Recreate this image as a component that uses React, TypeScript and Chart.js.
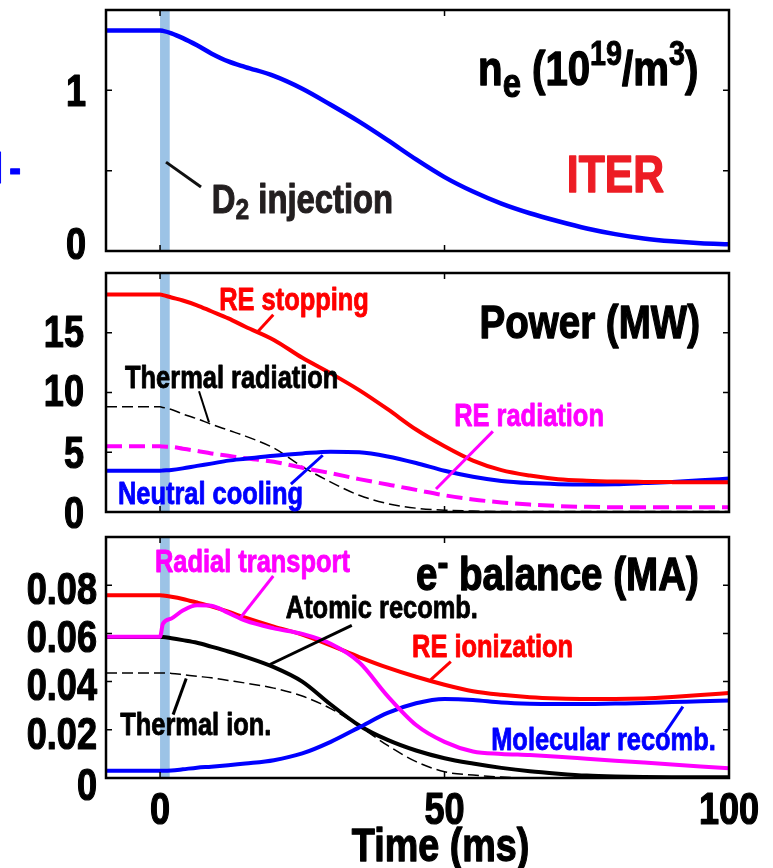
import React, { useEffect, useRef } from 'react';
import { Chart, registerables } from 'chart.js';

Chart.register(...registerables);

const FONT = '"Liberation Sans", Arial, sans-serif';
const SX = 0.82; // horizontal condensing to mimic a narrow bold face

// ---------- data ----------
const timeMs = [-9.5, 0, 0.5, 2, 4, 6.5, 9, 12, 15, 20, 25, 30, 35, 40, 45, 50, 55, 60, 65, 70, 75, 80, 85, 90, 95, 100];

const electronDensity = [1.373, 1.373, 1.37, 1.355, 1.325, 1.28, 1.23, 1.18, 1.145, 1.09, 1.01, 0.91, 0.805, 0.69, 0.57, 0.46, 0.37, 0.295, 0.235, 0.185, 0.14, 0.105, 0.078, 0.06, 0.048, 0.042];

const reStopping = [18.2, 18.2, 18.15, 17.95, 17.7, 17.3, 16.8, 16.2, 15.5, 14.4, 12.9, 11.6, 10.2, 8.6, 6.9, 5.5, 4.3, 3.5, 3.05, 2.75, 2.62, 2.55, 2.52, 2.5, 2.5, 2.5];
const neutralCooling = [3.45, 3.45, 3.47, 3.52, 3.65, 3.86, 4.05, 4.3, 4.45, 4.7, 4.9, 5.05, 5.0, 4.65, 4.1, 3.45, 2.95, 2.6, 2.42, 2.33, 2.3, 2.33, 2.42, 2.52, 2.65, 2.8];
const reRadiation = [5.5, 5.5, 5.48, 5.45, 5.3, 5.11, 4.9, 4.7, 4.5, 4.2, 3.7, 3.25, 2.75, 2.3, 1.85, 1.4, 1.05, 0.8, 0.62, 0.5, 0.43, 0.4, 0.39, 0.39, 0.39, 0.39];
const thermalRadiation = [8.8, 8.8, 8.75, 8.58, 8.2, 7.8, 7.35, 6.85, 6.35, 5.35, 3.8, 2.5, 1.4, 0.7, 0.32, 0.15, 0.08, 0.05, 0.05, 0.05, 0.05, 0.05, 0.05, 0.05, 0.05, 0.05];

const reIonization = [0.0758, 0.0758, 0.0757, 0.0752, 0.0743, 0.0728, 0.0712, 0.069, 0.0665, 0.0628, 0.0595, 0.055, 0.0502, 0.0458, 0.042, 0.0387, 0.036, 0.0345, 0.0335, 0.033, 0.0328, 0.0328, 0.033, 0.0336, 0.0344, 0.0353];
const radialTransport = [0.0586, 0.0586, 0.064, 0.0662, 0.0695, 0.0717, 0.0715, 0.0685, 0.0653, 0.0621, 0.0598, 0.0557, 0.048, 0.034, 0.022, 0.015, 0.011, 0.01, 0.0095, 0.0088, 0.008, 0.0072, 0.0064, 0.0056, 0.0048, 0.004];
const atomicRecomb = [0.0585, 0.0585, 0.0585, 0.058, 0.0572, 0.0561, 0.0545, 0.0525, 0.0503, 0.046, 0.04, 0.0305, 0.0218, 0.0158, 0.0114, 0.0082, 0.006, 0.0042, 0.0028, 0.0018, 0.001, 0.0006, 0.0004, 0.0003, 0.0003, 0.0003];
const thermalIonization = [0.0436, 0.0436, 0.0436, 0.0434, 0.0429, 0.0422, 0.0416, 0.0405, 0.0394, 0.0373, 0.034, 0.0288, 0.0215, 0.0135, 0.0068, 0.0026, 0.0012, 0.0004, 0, 0, 0, 0, 0, 0, 0, 0];
const molecularRecomb = [0.003, 0.003, 0.003, 0.0031, 0.0036, 0.0043, 0.0047, 0.0053, 0.006, 0.0074, 0.0102, 0.015, 0.021, 0.027, 0.031, 0.0328, 0.0324, 0.0313, 0.0308, 0.0307, 0.0307, 0.0309, 0.0311, 0.0315, 0.0318, 0.0322];

const xTickValues = [0, 50, 100];
const xTickLabels = ['0', '50', '100'];
const xTitle = 'Time (ms)';
const densityTickValues = [0, 0.5, 1, 1.5];
const densityTickLabels = ['0', '', '1', ''];
const powerTickValues = [0, 5, 10, 15, 20];
const powerTickLabels = ['0', '5', '10', '15', ''];
const balanceTickValues = [0, 0.02, 0.04, 0.06, 0.08, 0.1];
const balanceTickLabels = ['0', '0.02', '0.04', '0.06', '0.08', ''];
const injectionWindow = [0, 1.7];

const RED = '#ff0000';
const BLUE = '#0000ff';
const MAGENTA = '#ff00ff';
const BLACK = '#000000';

// ---------- helpers ----------
type Run = { t: string; size: number; dy?: number };
type Note =
  | { kind: 'text'; runs: Run[]; x: number; y: number; align?: 'left' | 'right'; color: string }
  | { kind: 'line'; x1: number; y1: number; x2: number; y2: number; color: string; width: number };

const txt = (s: string, size = 31): Run[] => [{ t: s, size }];

function drawRuns(ctx: CanvasRenderingContext2D, runs: Run[], x: number, y: number, align: string, color: string) {
  ctx.save();
  ctx.fillStyle = color;
  ctx.strokeStyle = color;
  ctx.lineJoin = 'round';
  ctx.textBaseline = 'alphabetic';
  ctx.textAlign = 'left';
  const widths = runs.map((r) => {
    ctx.font = `bold ${r.size}px ${FONT}`;
    return ctx.measureText(r.t).width * SX;
  });
  const total = widths.reduce((a, b) => a + b, 0);
  let cx = align === 'right' ? x - total : align === 'center' ? x - total / 2 : x;
  runs.forEach((r, i) => {
    ctx.font = `bold ${r.size}px ${FONT}`;
    ctx.save();
    ctx.translate(cx, y + (r.dy || 0));
    ctx.scale(SX, 1);
    ctx.lineWidth = r.size * 0.028;
    ctx.fillText(r.t, 0, 0);
    ctx.strokeText(r.t, 0, 0);
    ctx.restore();
    cx += widths[i];
  });
  ctx.restore();
}

type Series = { data: number[]; color: string; width: number; dash?: number[] };

type PanelSpec = {
  series: Series[];
  yMin: number;
  yMax: number;
  yTicks: number[];
  yLabels: string[];
  yLabelShift: number[];
  yPad: number;
  padTop: number;
  padBottom: number;
  showX: boolean;
  notes: Note[];
};

const TICK_SIZE = 44;

function makeConfig(spec: PanelSpec): any {
  const panelPlugin = {
    id: 'panelDecor',
    beforeDatasetsDraw(chart: any) {
      const { ctx, chartArea: a, scales } = chart;
      const x0 = scales.x.getPixelForValue(injectionWindow[0]);
      const x1 = scales.x.getPixelForValue(injectionWindow[1]);
      ctx.save();
      ctx.fillStyle = '#9cc3e6';
      ctx.fillRect(x0, a.top, x1 - x0, a.bottom - a.top);
      ctx.restore();
    },
    afterDatasetsDraw(chart: any) {
      const { ctx, chartArea: a, scales } = chart;
      ctx.save();
      ctx.strokeStyle = '#000';
      ctx.lineWidth = 1.5;
      ctx.beginPath();
      spec.yTicks.forEach((v) => {
        const py = scales.y.getPixelForValue(v);
        if (py <= a.top + 1 || py >= a.bottom - 1) return;
        ctx.moveTo(a.left, py);
        ctx.lineTo(a.left + 6, py);
        ctx.moveTo(a.right, py);
        ctx.lineTo(a.right - 6, py);
      });
      xTickValues.forEach((v) => {
        const px = scales.x.getPixelForValue(v);
        if (px <= a.left + 1 || px >= a.right - 1) return;
        ctx.moveTo(px, a.top);
        ctx.lineTo(px, a.top + 6);
        ctx.moveTo(px, a.bottom);
        ctx.lineTo(px, a.bottom - 6);
      });
      ctx.stroke();
      ctx.lineWidth = 2.5;
      ctx.strokeRect(a.left, a.top, a.right - a.left, a.bottom - a.top);
      ctx.restore();
    },
    afterDraw(chart: any) {
      const { ctx, scales, chartArea: a } = chart;
      const X = (v: number) => scales.x.getPixelForValue(v);
      const Y = (v: number) => scales.y.getPixelForValue(v);
      // tick labels (positioned through the scales)
      const capHalf = TICK_SIZE * 0.716 * 0.5;
      spec.yTicks.forEach((v, i) => {
        const label = spec.yLabels[i];
        if (!label) return;
        drawRuns(ctx, [{ t: label, size: TICK_SIZE }], a.left - spec.yPad, Y(v) + capHalf + (spec.yLabelShift[i] || 0), 'right', BLACK);
      });
      if (spec.showX) {
        xTickValues.forEach((v, i) => {
          drawRuns(ctx, [{ t: xTickLabels[i], size: TICK_SIZE }], X(v), a.bottom + 46, 'center', BLACK);
        });
        drawRuns(ctx, [{ t: xTitle, size: 46 }], X(49.3), a.bottom + 83, 'center', BLACK);
      }
      spec.notes.forEach((n) => {
        if (n.kind === 'line') {
          ctx.save();
          ctx.strokeStyle = n.color;
          ctx.lineWidth = n.width;
          ctx.beginPath();
          ctx.moveTo(X(n.x1), Y(n.y1));
          ctx.lineTo(X(n.x2), Y(n.y2));
          ctx.stroke();
          ctx.restore();
        } else {
          drawRuns(ctx, n.runs, X(n.x), Y(n.y), n.align || 'left', n.color);
        }
      });
    },
  };

  return {
    type: 'line',
    data: {
      datasets: spec.series.map((s) => ({
        data: timeMs.map((t, i) => ({ x: t, y: s.data[i] })),
        borderColor: s.color,
        borderWidth: s.width,
        borderDash: s.dash || [],
        pointRadius: 0,
        fill: false,
        cubicInterpolationMode: 'monotone',
      })),
    },
    options: {
      responsive: false,
      devicePixelRatio: 1,
      animation: false,
      events: [],
      layout: { padding: { left: 0, right: 44, top: spec.padTop, bottom: spec.padBottom } },
      plugins: { legend: { display: false }, tooltip: { enabled: false }, title: { display: false } },
      scales: {
        x: {
          type: 'linear',
          min: -9.5,
          max: 100,
          display: false,
          afterBuildTicks: (s: any) => {
            s.ticks = xTickValues.map((v) => ({ value: v }));
          },
        },
        y: {
          type: 'linear',
          min: spec.yMin,
          max: spec.yMax,
          afterBuildTicks: (s: any) => {
            s.ticks = spec.yTicks.map((v) => ({ value: v }));
          },
          afterFit: (s: any) => {
            s.width = 106;
            s.paddingTop = 0;
            s.paddingBottom = 0;
          },
          grid: { display: false, drawTicks: false },
          border: { display: false },
          ticks: { display: false },
        },
      },
    },
    plugins: [panelPlugin],
  };
}

// ---------- panels ----------
const densityPanel: PanelSpec = {
  series: [{ data: electronDensity, color: BLUE, width: 4.5 }],
  yMin: 0,
  yMax: 1.5,
  yTicks: densityTickValues,
  yLabels: densityTickLabels,
  yLabelShift: [-8, 0, 0, 0],
  yPad: 20,
  padTop: 10,
  padBottom: 22,
  showX: false,
  notes: [
    {
      kind: 'text',
      runs: [
        { t: 'n', size: 49 },
        { t: 'e', size: 40, dy: 12 },
        { t: ' (10', size: 49 },
        { t: '19', size: 35, dy: -20 },
        { t: '/m', size: 49 },
        { t: '3', size: 35, dy: -20 },
        { t: ')', size: 49 },
      ],
      x: 94.6,
      y: 1.031,
      align: 'right',
      color: BLACK,
    },
    { kind: 'text', runs: txt('ITER', 52), x: 71.5, y: 0.366, color: '#ed1c24' },
    {
      kind: 'text',
      runs: [
        { t: 'D', size: 40 },
        { t: '2', size: 30, dy: 6 },
        { t: ' injection', size: 40 },
      ],
      x: 9.1,
      y: 0.236,
      color: '#231f20',
    },
    { kind: 'line', x1: 1.05, y1: 0.553, x2: 7.2, y2: 0.398, color: '#111', width: 3 },
    { kind: 'text', runs: txt('l', 43), x: -29.3, y: 0.422, color: BLUE },
    { kind: 'text', runs: txt('-', 43), x: -26.5, y: 0.422, color: BLUE },
  ],
};

const powerPanel: PanelSpec = {
  series: [
    { data: reStopping, color: RED, width: 4 },
    { data: neutralCooling, color: BLUE, width: 4 },
    { data: reRadiation, color: MAGENTA, width: 4, dash: [16, 7] },
    { data: thermalRadiation, color: BLACK, width: 1.5, dash: [11, 5] },
  ],
  yMin: 0,
  yMax: 20,
  yTicks: powerTickValues,
  yLabels: powerTickLabels,
  yLabelShift: [0, 0, -2, -2, 0],
  yPad: 22,
  padTop: 11,
  padBottom: 25,
  showX: false,
  notes: [
    { kind: 'text', runs: txt('RE stopping'), x: 10.4, y: 16.9, color: RED },
    { kind: 'line', x1: 17.2, y1: 15.1, x2: 19.9, y2: 16.5, color: RED, width: 3 },
    { kind: 'text', runs: txt('Power (MW)', 47), x: 94.9, y: 14.6, align: 'right', color: BLACK },
    { kind: 'text', runs: txt('Thermal radiation'), x: -6.15, y: 10.4, color: BLACK },
    { kind: 'line', x1: 6.85, y1: 10.1, x2: 8.6, y2: 7.5, color: BLACK, width: 2 },
    { kind: 'text', runs: txt('RE radiation'), x: 51.7, y: 7.17, color: MAGENTA },
    { kind: 'line', x1: 58.5, y1: 6.75, x2: 48.5, y2: 1.92, color: MAGENTA, width: 3 },
    { kind: 'text', runs: txt('Neutral cooling'), x: -7.4, y: 0.67, color: BLUE },
    { kind: 'line', x1: 28.6, y1: 4.75, x2: 23.0, y2: 2.33, color: BLUE, width: 3 },
  ],
};

const balancePanel: PanelSpec = {
  series: [
    { data: radialTransport, color: MAGENTA, width: 4 },
    { data: reIonization, color: RED, width: 4 },
    { data: molecularRecomb, color: BLUE, width: 4 },
    { data: atomicRecomb, color: BLACK, width: 4 },
    { data: thermalIonization, color: BLACK, width: 1.5, dash: [11, 5] },
  ],
  yMin: 0,
  yMax: 0.1,
  yTicks: balanceTickValues,
  yLabels: balanceTickLabels,
  yLabelShift: [6, 3, 3, 3, 3, 0],
  yPad: 9,
  padTop: 12,
  padBottom: 90,
  showX: true,
  notes: [
    { kind: 'text', runs: txt('Radial transport'), x: -0.9, y: 0.0854, color: MAGENTA },
    { kind: 'line', x1: 19.9, y1: 0.0838, x2: 14.2, y2: 0.0667, color: MAGENTA, width: 3 },
    {
      kind: 'text',
      runs: [
        { t: 'e', size: 47 },
        { t: '-', size: 40, dy: -14 },
        { t: ' balance (MA)', size: 47 },
      ],
      x: 94.7,
      y: 0.0779,
      align: 'right',
      color: BLACK,
    },
    { kind: 'text', runs: txt('Atomic recomb.'), x: 22.1, y: 0.0663, color: BLACK },
    { kind: 'line', x1: 33.7, y1: 0.0633, x2: 19.3, y2: 0.0471, color: BLACK, width: 3 },
    { kind: 'text', runs: txt('RE ionization'), x: 44.3, y: 0.0504, color: RED },
    { kind: 'line', x1: 51.1, y1: 0.0483, x2: 47.6, y2: 0.0408, color: RED, width: 3 },
    { kind: 'text', runs: txt('Thermal ion.'), x: -7.0, y: 0.0179, color: BLACK },
    { kind: 'line', x1: 4.6, y1: 0.0413, x2: 2.3, y2: 0.0263, color: BLACK, width: 3 },
    { kind: 'text', runs: txt('Molecular recomb.'), x: 58.2, y: 0.0117, color: BLUE },
    { kind: 'line', x1: 91.9, y1: 0.0296, x2: 88.8, y2: 0.0188, color: BLUE, width: 3 },
  ],
};

function Panel({ top, height, spec }: { top: number; height: number; spec: PanelSpec }) {
  const ref = useRef<HTMLCanvasElement>(null);
  useEffect(() => {
    if (!ref.current) return;
    const chart = new Chart(ref.current, makeConfig(spec));
    return () => chart.destroy();
  }, [spec]);
  return (
    <canvas
      ref={ref}
      width={773}
      height={height}
      style={{ position: 'absolute', left: 0, top, width: 773, height, display: 'block' }}
    />
  );
}

export default function App() {
  return (
    <div style={{ position: 'absolute', left: 0, top: 0, width: 773, height: 868, background: '#fff', overflow: 'hidden' }}>
      <Panel top={0} height={273} spec={densityPanel} />
      <Panel top={262} height={275} spec={powerPanel} />
      <Panel top={525} height={343} spec={balancePanel} />
    </div>
  );
}
